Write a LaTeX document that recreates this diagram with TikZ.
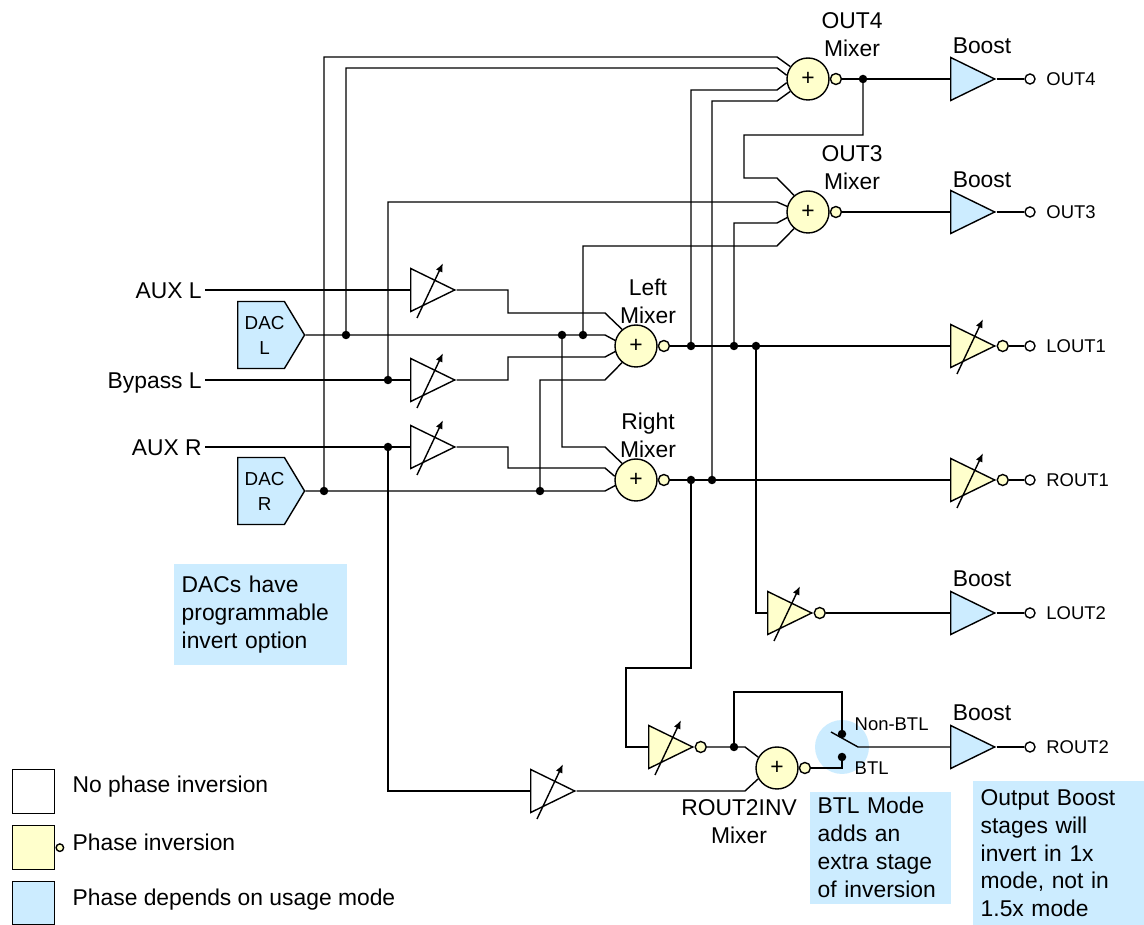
\documentclass[tikz,border=0pt]{standalone}
\usepackage{fontspec}
\setmainfont{Liberation Sans}
\usetikzlibrary{shapes.geometric,shapes.symbols,arrows.meta,positioning,calc}

\definecolor{invyellow}{RGB}{255,255,204}
\definecolor{modeblue}{RGB}{204,236,255}

\newcommand\fbig{\fontsize{13pt}{15.9pt}\selectfont}
\newcommand\fsmall{\fontsize{10.5pt}{12pt}\selectfont}
\newcommand\gainarrow[1]{\draw[-{Latex[length=5pt,width=4pt]}] ($(#1.west)+(7,28)$) -- ($(#1.west)+(33,-27)$);}

\tikzset{
  mixer/.style={circle, draw, fill=invyellow, minimum size=0.84cm, inner sep=0pt, font=\fbig},
  bubble/.style={circle, draw, fill=invyellow, minimum size=0.22cm, inner sep=0pt},
  term/.style={circle, draw, fill=white, minimum size=0.2cm, inner sep=0pt},
  jdot/.style={circle, fill=black, minimum size=0.17cm, inner sep=0pt},
  amp/.style={isosceles triangle, isosceles triangle stretches, draw, inner sep=0pt,
    minimum width=0.86cm, minimum height=0.88cm, shape border rotate=0, anchor=west},
  pga/.style={amp, fill=white},
  ipga/.style={amp, fill=invyellow},
  boost/.style={amp, fill=modeblue},
  dac/.style={signal, signal to=east, draw, fill=modeblue, minimum width=1.3cm, minimum height=1.34cm,
    signal pointer angle=118, inner sep=0pt, align=center, anchor=west, font=\fontsize{10.7pt}{14.2pt}\selectfont},
  note/.style={fill=modeblue, align=left, anchor=north west, inner xsep=0.16cm, inner ysep=0pt, font=\fbig},
  lbl/.style={align=center, inner sep=0pt, font=\fbig},
  cap13/.style={inner sep=0pt, text height=9.3pt, text depth=0pt, font=\fbig},
  inlbl/.style={cap13, inner xsep=1.5pt, anchor=east},
  outlbl/.style={inner sep=0pt, text height=7.5pt, text depth=0pt, font=\fsmall},
  legbox/.style={draw, minimum width=0.84cm, minimum height=0.88cm, inner sep=0pt, anchor=north west},
}

\begin{document}
\begin{tikzpicture}[x=0.02cm, y=-0.02cm, line width=0.8pt]
\useasboundingbox (0,0) rectangle (1144,925);

\node[circle, fill=modeblue, minimum size=1.08cm, inner sep=0pt] (btlsel) at (842,747) {}; % switch highlight

% sources
\node[inlbl] (auxl) at (205,290) {AUX L};
\node[inlbl] (bypassl) at (205,380) {Bypass L};
\node[inlbl] (auxr) at (205,447) {AUX R};
\node[dac] (dacl) at (237,335) {\hspace*{4pt}DAC\\\hspace*{4pt}L};
\node[dac] (dacr) at (237,491) {\hspace*{4pt}DAC\\\hspace*{4pt}R};

% gain stages
\node[pga] (pgaauxl) at (410,290) {};
\node[pga] (pgabyp) at (410,380) {};
\node[pga] (pgaauxr) at (410,447) {};
\node[pga] (pgabtl) at (530,791) {};
\node[ipga] (pgainv) at (648,747) {};
\node[ipga] (pgalout2) at (767,613) {};
\node[ipga] (pgalout1) at (950,346) {};
\node[ipga] (pgarout1) at (950,480) {};
\node[bubble, right=0pt of pgainv] (pgainvb) {};
\node[bubble, right=0pt of pgalout2] (pgalout2b) {};
\node[bubble, right=0pt of pgalout1] (pgalout1b) {};
\node[bubble, right=0pt of pgarout1] (pgarout1b) {};

\node[boost] (bout4) at (950,79) {};
\node[boost] (bout3) at (950,212) {};
\node[boost] (blout2) at (950,613) {};
\node[boost] (brout2) at (950,747) {};
\node[cap13] (lblbout4) at (982,45) {Boost};
\node[cap13] (lblbout3) at (982,179) {Boost};
\node[cap13] (lblblout2) at (982,578) {Boost};
\node[cap13] (lblbrout2) at (982,712) {Boost};

% mixers
\node[mixer] (mixout4) at (808,79) {+};
\node[mixer] (mixout3) at (808,212) {+};
\node[mixer] (mixleft) at (636,346) {+};
\node[mixer] (mixright) at (636,480) {+};
\node[mixer] (mixrinv) at (777,768) {+};
\node[bubble, right=0pt of mixout4] (mixout4b) {};
\node[bubble, right=0pt of mixout3] (mixout3b) {};
\node[bubble, right=0pt of mixleft] (mixleftb) {};
\node[bubble, right=0pt of mixright] (mixrightb) {};
\node[bubble, right=0pt of mixrinv] (mixrinvb) {};
\node[lbl] (lblout4) at (852,35) {OUT4\\Mixer};
\node[lbl] (lblout3) at (852,168) {OUT3\\Mixer};
\node[lbl] (lblleft) at (648,301) {Left\\Mixer};
\node[lbl] (lblright) at (648,435) {Right\\Mixer};
\node[lbl] (lblrinv) at (739,822) {ROUT2INV\\Mixer};

% output terminals
\node[term] (tout4) at (1030,79) {};
\node[term] (tout3) at (1030,212) {};
\node[term] (tlout1) at (1030,346) {};
\node[term] (trout1) at (1030,480) {};
\node[term] (tlout2) at (1030,613) {};
\node[term] (trout2) at (1030,747) {};
\node[outlbl, right=0.2cm of tout4] (lout4) {OUT4};
\node[outlbl, right=0.2cm of tout3] (lout3) {OUT3};
\node[outlbl, right=0.2cm of tlout1] (llout1) {LOUT1};
\node[outlbl, right=0.2cm of trout1] (lrout1) {ROUT1};
\node[outlbl, right=0.2cm of tlout2] (llout2) {LOUT2};
\node[outlbl, right=0.2cm of trout2] (lrout2) {ROUT2};

% junctions
\node[jdot] (jdacl1) at (346,335) {};
\node[jdot] (jdacl2) at (562,335) {};
\node[jdot] (jdacl3) at (583,335) {};
\node[jdot] (jdacr1) at (324,491) {};
\node[jdot] (jdacr2) at (540,491) {};
\node[jdot] (jbyp) at (388,380) {};
\node[jdot] (jauxr) at (388,447) {};
\node[jdot] (jleft1) at (691,346) {};
\node[jdot] (jleft2) at (734,346) {};
\node[jdot] (jleft3) at (756,346) {};
\node[jdot] (jright1) at (691,480) {};
\node[jdot] (jright2) at (712,480) {};
\node[jdot] (jout4) at (863,79) {};
\node[jdot] (jinv) at (734,747) {};
\node[jdot] (cnon) at (842,734) {}; % Non-BTL contact
\node[jdot] (cbtl) at (842,757) {}; % BTL contact
\node[outlbl, anchor=west] (lblnon) at (854,724) {Non-BTL};
\node[outlbl, anchor=west] (lblbtl) at (854,768) {BTL};

% inputs into the gain stages
\draw (auxl.east) -- (pgaauxl.west);
\draw (bypassl.east) -- (pgabyp.west);
\draw (auxr.east) -- (pgaauxr.west);
\draw (jauxr.center) |- (pgabtl.west);

% left mixer
\draw (pgaauxl.east) -| (508,313) -- (605,313) -- (mixleft.130);
\draw (dacl.east) -- (605,335) -- (mixleft.165);
\draw (pgabyp.east) -| (508,357) -- (605,357) -- (mixleft.195);
\draw (jdacr2.center) |- (605,380) -- (mixleft.230);

% right mixer
\draw (jdacl2.center) |- (605,447) -- (mixright.130);
\draw (pgaauxr.east) -| (508,468) -- (605,468) -- (mixright.170);
\draw (dacr.east) -- (605,491) -- (mixright.195);

% OUT4 mixer
\draw (jdacr1.center) |- (777,57) -- (mixout4.145);
\draw (jdacl1.center) |- (777,68) -- (mixout4.170);
\draw (jleft1.center) |- (777,90) -- (mixout4.190);
\draw (jright2.center) |- (777,101) -- (mixout4.215);

% OUT3 mixer
\draw (jout4.center) -- (863,135) -| (744,178) -- (777,178) -- (mixout3.130);
\draw (jbyp.center) |- (777,202) -- (mixout3.165);
\draw (jleft2.center) |- (777,223) -- (mixout3.195);
\draw (jdacl3.center) |- (777,246) -- (mixout3.230);

% outputs
\draw (mixout4b.east) -- (bout4.west);
\draw (bout4.east) -- (tout4.west);
\draw (mixout3b.east) -- (bout3.west);
\draw (bout3.east) -- (tout3.west);
\draw (mixleftb.east) -- (pgalout1.west);
\draw (pgalout1b.east) -- (tlout1.west);
\draw (mixrightb.east) -- (pgarout1.west);
\draw (pgarout1b.east) -- (trout1.west);
\draw (jleft3.center) |- (pgalout2.west);
\draw (pgalout2b.east) -- (blout2.west);
\draw (blout2.east) -- (tlout2.west);

% ROUT2 path
\draw (jright1.center) -- (691,668) -| (626,747) -- (pgainv.west);
\draw (pgainvb.east) -- (745,747) -- (mixrinv.150);
\draw (pgabtl.east) -- (745,791) -- (mixrinv.210);
\draw (jinv.center) |- (842,692) -- (cnon.center);
\draw (mixrinvb.east) -| (cbtl.center);
\draw (831,732) -- (858,747) -- (brout2.west); % switch arm
\draw (brout2.east) -- (trout2.west);

% gain arrows
\gainarrow{pgaauxl}
\gainarrow{pgabyp}
\gainarrow{pgaauxr}
\gainarrow{pgabtl}
\gainarrow{pgainv}
\gainarrow{pgalout2}
\gainarrow{pgalout1}
\gainarrow{pgarout1}

% notes
\node[note, text width=3.14cm, minimum height=2.02cm] (notedac) at (173,563) {DACs have\\programmable\\invert option};
\node[note, text width=2.5cm, minimum height=2.24cm] (notebtl) at (809,791) {BTL Mode\\adds an\\extra stage\\of inversion};
\node[note, text width=3.12cm, minimum height=2.9cm] (noteboost) at (972,780) {Output Boost\\stages will\\invert in 1x\\mode, not in\\1.5x mode};

% legend
\node[legbox, fill=white] (legnone) at (12,769) {};
\node[legbox, fill=invyellow] (leginv) at (12,825) {};
\node[legbox, fill=modeblue, minimum height=0.86cm] (legmode) at (12,881) {};
\node[bubble, minimum size=0.15cm, right=0pt of leginv] (leginvb) {};
\node[cap13, anchor=west] (legnonetxt) at (72,784) {No phase inversion};
\node[cap13, anchor=west] (leginvtxt) at (72,842) {Phase inversion};
\node[cap13, anchor=west] (legmodetxt) at (72,897) {Phase depends on usage mode};
\end{tikzpicture}
\end{document}
